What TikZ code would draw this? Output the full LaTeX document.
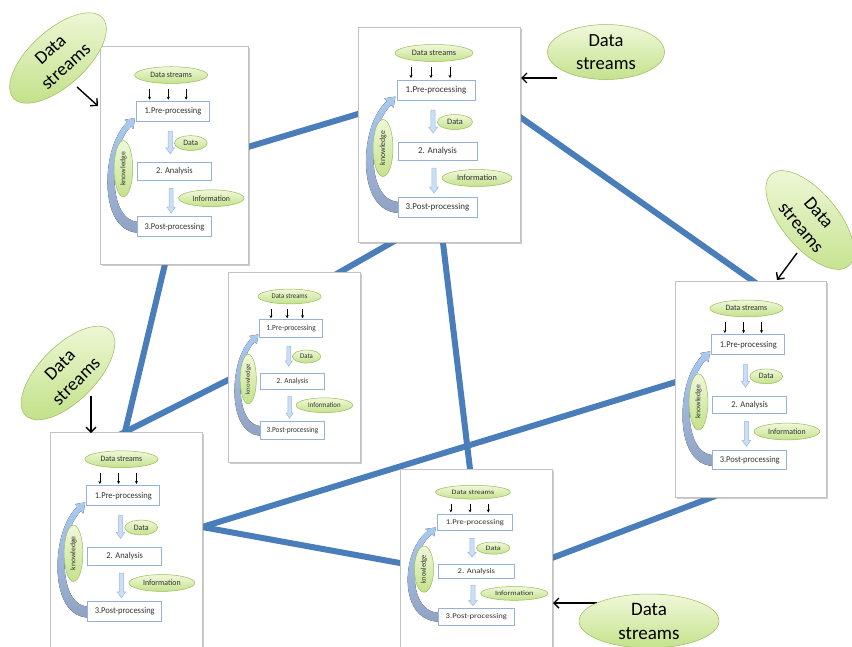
\documentclass[tikz,border=0pt]{standalone}
\usepackage{fontspec}
\setmainfont{Carlito}
\usetikzlibrary{shapes.geometric,arrows.meta,shadows,calc}

\definecolor{linkblue}{RGB}{74,126,187}
\definecolor{boxblue}{RGB}{149,179,215}
\definecolor{gtop}{RGB}{240,248,218}
\definecolor{gbot}{RGB}{196,226,140}
\definecolor{gborder}{RGB}{155,187,89}
\definecolor{fatfill}{RGB}{205,222,244}
\definecolor{fatdraw}{RGB}{150,186,230}
\definecolor{kntop}{RGB}{170,202,242}
\definecolor{knbot}{RGB}{145,162,195}
\definecolor{frameline}{RGB}{195,195,195}

\tikzset{
 link/.style={line width=6pt, linkblue},
 panelframe/.style={draw=frameline, fill=white, line width=0.8pt, inner sep=0pt,
   drop shadow={shadow xshift=1.5pt, shadow yshift=-1.5pt, opacity=0.4, fill=black!50}},
 stagebox/.style={draw=boxblue, line width=1pt, fill=white, inner sep=0pt, text=black!80,
   font=\fontsize{9}{10}\selectfont},
 greenell/.style={ellipse, draw=gborder, line width=0.5pt, top color=gtop, bottom color=gbot, inner sep=0pt},
 smallell/.style={greenell, text=black!80, font=\fontsize{8.3}{9}\selectfont},
 bigell/.style={greenell, minimum width=120pt, minimum height=56pt, align=center,
   font=\fontsize{18.5}{23}\selectfont},
 callout/.style={black, line width=1.4pt, -{Straight Barb[length=5pt,width=10pt]}},
 tinyarrow/.style={black, line width=0.6pt, -{Stealth[length=3pt,width=3pt]}},
 fatarr/.style={fill=fatfill, draw=fatdraw, line width=0.5pt},
}

\newcommand\fatarrow[3]{%
 \filldraw[fatarr] ({#1-2.2},#2) -- ({#1+2.2},#2) -- ({#1+2.2},{#3-6}) -- ({#1+4.5},{#3-6})
   -- (#1,#3) -- ({#1-4.5},{#3-6}) -- ({#1-2.2},{#3-6}) -- cycle;}

\newcommand\drawpanel[8]{%
 \node[panelframe, anchor=north west, minimum width=#4pt, minimum height=#5pt] (#1) at (#2,#3) {};
 \begin{scope}[shift={(#2,#3+#8)}, xscale=#6, yscale=#7, transform shape]
  \fill[top color=kntop, bottom color=knbot]
    (42,187) .. controls (12,187) and (5,150) .. (9,120)
    .. controls (12,98) and (20,83) .. (28.9,74.9) -- (26.4,72.4) -- (37.4,70.6)
    -- (35.6,81.6) -- (33.1,79.1) .. controls (25,87) and (18.5,100) .. (16,120)
    .. controls (13.5,145) and (19,176) .. (42,176) -- cycle;
  \node[smallell, minimum width=78pt, minimum height=17pt] (#1ds) at (76,27) {Data streams};
  \foreach \xx in {53,73,92} {\draw[tinyarrow] (\xx,41) -- (\xx,52);}
  \node[stagebox, minimum width=78pt, minimum height=20pt] (#1b1) at (78,64) {1.Pre-processing};
  \fatarrow{75}{84}{107}
  \node[smallell, minimum width=35pt, minimum height=15pt] (#1d) at (97,96) {Data};
  \node[stagebox, minimum width=79pt, minimum height=18pt] (#1b2) at (79.5,125) {2. Analysis};
  \fatarrow{76}{142}{167}
  \node[smallell, minimum width=70pt, minimum height=17pt] (#1i) at (119,152) {Information};
  \node[stagebox, minimum width=79pt, minimum height=20pt] (#1b3) at (79.5,181) {3.Post-processing};
  \node[smallell, minimum width=20pt, minimum height=57pt, font=\fontsize{7.8}{8}\selectfont]
    (#1k) at (25,122) {\rotatebox{90}{knowledge}};
 \end{scope}}

\begin{document}
\begin{tikzpicture}[x=1pt, y=-1pt]
\useasboundingbox (0,0) rectangle (852,646);
\clip (0,0) rectangle (852,646);

% link end points
\coordinate (l1a) at (242.3,148.7); \coordinate (l1b) at (363.7,112.3);
\coordinate (l2a) at (515.1,113.5); \coordinate (l2b) at (757.9,284.5);
\coordinate (l3a) at (442.3,237);   \coordinate (l3b) at (470.7,475);
\coordinate (l4a) at (396.2,240);   \coordinate (l4b) at (334.8,275);
\coordinate (l5a) at (233.4,377.3); \coordinate (l5b) at (119.6,434.7);
\coordinate (l6a) at (166.4,258.2); \coordinate (l6b) at (123.6,437.8);
\coordinate (l7a) at (196.3,528.8); \coordinate (l7b) at (681.7,380.2);
\coordinate (l8a) at (196.1,525.9); \coordinate (l8b) at (405.9,564.1);
\coordinate (l9a) at (546.4,560.1); \coordinate (l9b) at (715.6,495.9);

\foreach \k in {1,...,9} {\draw[link] (l\k a) -- (l\k b);}

% panels: name, x, y, w, h, xscale, yscale, content dy
\drawpanel{pa}{100}{46}{148}{218}{0.936}{0.985}{2.5}
\drawpanel{pb}{358}{27}{162}{215}{1}{1}{-1}
\drawpanel{pc}{228}{272}{132}{190}{0.81}{0.87}{1}
\drawpanel{pd}{675}{281}{151}{216}{0.94}{0.985}{0.8}
\drawpanel{pe}{50}{432}{152}{230}{0.94}{0.99}{0.5}
\drawpanel{pf}{400}{469}{152}{200}{0.96}{0.81}{1.3}

% callout arrows
\coordinate (a1s) at (77,87);   \coordinate (a1e) at (98,106);
\coordinate (a2s) at (557,78);  \coordinate (a2e) at (521,78);
\coordinate (a3s) at (797,253); \coordinate (a3e) at (777,280);
\coordinate (a4s) at (91,396);  \coordinate (a4e) at (91,433);
\coordinate (a5s) at (597,603); \coordinate (a5e) at (553,603);
\foreach \k in {1,...,5} {\draw[callout] (a\k s) -- (a\k e);}

% big ellipses
\node[bigell, rotate=42] (e1) at (58,58) {Data\\streams};
\node[bigell, minimum width=117pt, minimum height=55pt] (e2) at (606,52) {Data\\streams};
\node[bigell, rotate=-50] (e3) at (810,220) {Data\\streams};
\node[bigell, rotate=45] (e4) at (68,373) {Data\\streams};
\node[bigell, minimum width=140pt, minimum height=54pt, font=\fontsize{19}{24}\selectfont] (e5) at (649,621) {Data\\streams};
\end{tikzpicture}
\end{document}
